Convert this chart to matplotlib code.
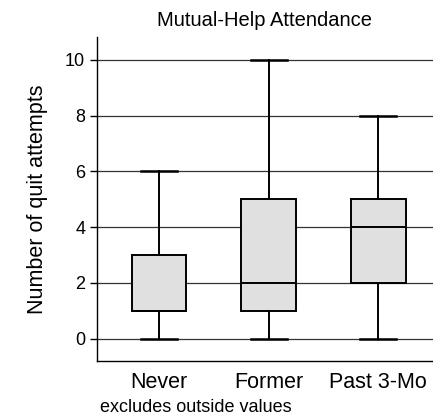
import matplotlib

matplotlib.use("Agg")
import matplotlib.pyplot as plt

plt.rcParams["font.family"] = ["Liberation Sans", "DejaVu Sans"]

groups = ["Never", "Former", "Past 3-Mo"]
whisker_low = [0, 0, 0]
q1 = [1, 1, 2]
medians = [1, 2, 4]
q3 = [3, 5, 5]
whisker_high = [6, 10, 8]
y_ticks = [0, 2, 4, 6, 8, 10]

stats = [
    {"label": g, "whislo": lo, "q1": a, "med": m, "q3": b, "whishi": hi}
    for g, lo, a, m, b, hi in zip(groups, whisker_low, q1, medians, q3, whisker_high)
]

fig = plt.figure(figsize=(4.33, 4.19), dpi=100)
ax = fig.add_axes([0.224, 0.1384, 0.776, 0.7733])

for y in y_ticks:
    ax.axhline(y, color="#333333", linewidth=0.9, zorder=0)

ax.bxp(
    stats,
    positions=[1, 2, 3],
    widths=0.5,
    showfliers=False,
    patch_artist=True,
    boxprops={"facecolor": "#e0e0e0", "edgecolor": "black", "linewidth": 1.4},
    medianprops={"color": "black", "linewidth": 1.4},
    whiskerprops={"color": "black", "linewidth": 1.4},
    capprops={"color": "black", "linewidth": 1.8},
    capwidths=0.33,
    zorder=2,
)

ax.set_xlim(0.434, 3.5)
ax.set_ylim(-0.8, 10.82)
ax.set_yticks(y_ticks)
ax.set_xticks([1, 2, 3])
ax.set_xticklabels(groups, fontsize=15.5)
ax.tick_params(axis="x", length=0, pad=8)
ax.tick_params(axis="y", labelsize=13, length=5, width=1)
ax.spines["top"].set_visible(False)
ax.spines["right"].set_visible(False)
ax.spines["left"].set_linewidth(1)
ax.spines["bottom"].set_linewidth(1)

ax.set_ylabel("Number of quit attempts", fontsize=15.5, labelpad=12)
ax.set_title("Mutual-Help Attendance", fontsize=14.5, pad=8)
fig.text(0.231, 0.016, "excludes outside values", fontsize=13)

fig.savefig("out.png", dpi=100)
